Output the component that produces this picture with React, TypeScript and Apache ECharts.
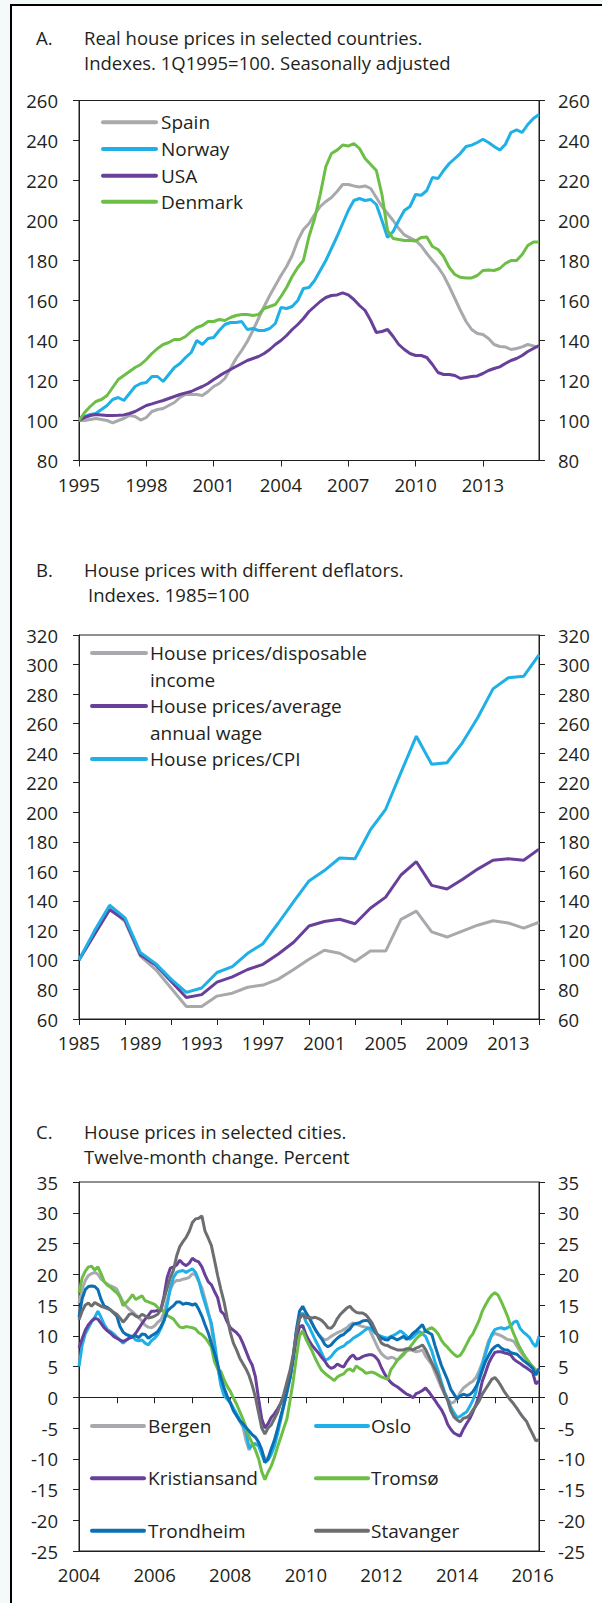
import React, { useEffect, useRef } from "react";
import * as echarts from "echarts";

// ---------- Categories ----------
const quartersA: string[] = [];
for (let y = 1995; y <= 2015; y++) for (let q = 1; q <= 4; q++) quartersA.push(`${y}Q${q}`);
quartersA.length = 83; // 1995Q1 .. 2015Q3

const yearsB: string[] = [];
for (let y = 1985; y <= 2015; y++) yearsB.push(String(y));

const monthsC: string[] = [];
for (let y = 2004; y <= 2016; y++) for (let m = 1; m <= 12; m++) monthsC.push(`${y}-${m < 10 ? "0" + m : m}`);
monthsC.length = 147; // 2004-01 .. 2016-03

// ---------- Panel A: real house prices, 1Q1995 = 100 ----------
const namesA = ["Spain", "Norway", "USA", "Denmark"];
const spain = [100,100,100.5,101,100.5,100,98.8,100,101,102.5,102,100.2,101.5,104.5,105.5,106,107.5,109,111.5,113,113,113,112.5,114.5,117,118.5,121,126,131,135,139.5,145,151,157,162.5,167.5,172.5,177,182.5,190,195.5,198.5,203,207,209.5,211.5,214.5,218,218,217.3,216.8,217.3,216,211.5,207,203.5,200,196,192.8,191.3,190,187.3,183.5,180,176.7,172.5,167,161,155,149.5,145.5,143.5,143,141,138,137,136.8,135.5,136,136.8,138,137.3,136.5];
const norway = [100,102,103,103.5,105.5,107.5,110.5,111.5,110,113.5,117,118.5,119,122,122,119.5,123,126.5,128.5,131.5,134,140,138,141,141.5,145,148,149,149,149.5,145.5,146,145,145,146,148.5,156.5,156,157,160,166,166.5,170,175,180,186,192,198.5,205,210,211,210,210.5,208,200,191.5,194.5,200,205,207,213,212.6,215,221.5,221,225,228.5,231,233.6,237,237.7,239,240.6,239,237,235.2,238,244,245.3,244,248,251,253];
const usa = [100,101.5,102.5,103,102.8,102.5,102.5,102.6,102.8,103.5,104.5,106,107.5,108.3,109.2,110,111,112,113,113.8,114.5,115.8,117,118.5,120.5,122.3,124,125.5,127,128.5,130,131,132,133.5,135.5,138,140,142.5,145.5,148,151,154.5,157,159.5,161.5,162.5,162.8,163.8,162.8,160.5,157.5,155,150,144,144.5,145.5,142,138,135.5,133.5,132.5,132.5,131.5,128,124,123,123,122.5,121,121.5,122,122.3,123.5,125,126,126.8,128.5,130,131,132.5,134.5,136,137.5];
const denmark = [100,104,107,109.5,110.5,112.5,116.5,120.5,122.5,124.5,126.5,128,130.5,133.5,136,138,139,140.5,140.5,142,144.5,146.5,147.5,149.5,149.5,150.5,150,151.5,152.5,153,153,152.5,153,156,157,158,162,166.5,172,176.5,180,192,201,213,227,233.5,235.2,237.7,237.2,238.5,236,231,228,225,213,195,191,190.5,190,190,189.7,191.5,191.7,187,185.5,182,176.5,173,171.6,171.3,171.3,172.5,175,175.3,175,176,178.5,180,180,183,187.5,189.2,189.2];

// ---------- Panel B: deflated house prices, 1985 = 100 ----------
const namesB = ["House prices/disposable\nincome", "House prices/average\nannual wage", "House prices/CPI"];
const perIncome = [100,117.5,135,126,102.5,93.5,81,68.5,68.5,75.5,77.5,81.5,83,87,93.5,100.5,106.5,104.5,99,106,106,127.5,133,119,115.5,119.5,123.5,126.5,125,121.5,125.5];
const perWage = [100,117,134,127,103.5,96.5,85.5,74.5,76.5,85,88.5,93.5,97,104,112,123,126,127.5,124.5,135,142.5,157.5,166.5,150.5,148,154.5,161.5,167.5,168.5,167.5,175];
const perCpi = [100,119.5,137,128.5,105,97.5,87,78,81,91.5,95.5,104.5,111,125,139.5,153.5,160.5,169,168.5,188,202,227,251.5,232.5,233.5,247,264,283.5,291,292,306.5];

// ---------- Panel C: twelve-month change, percent ----------
const namesC = ["Bergen", "Oslo", "Kristiansand", "Tromsø", "Trondheim", "Stavanger"];
const bergen = [15.3,17.5,19,19.8,20.1,20.3,20,19.2,18.8,18.4,18.1,17.9,17.6,16.5,15.5,14.8,14.3,13.9,13.4,12.9,12.4,11.7,11.4,11.3,11.6,12.2,12.6,13.8,15.8,17.5,18.6,19,19,19.2,19.3,19.5,20.1,19.9,18.8,17.8,16,14,11.5,7.8,4.8,2.6,1.2,0.2,-0.8,-1.8,-2.8,-3.9,-4.8,-7,-8.6,-7.5,-7.5,-7.9,-8.8,-9.9,-9.9,-8.8,-7.6,-5.5,-3.8,-1.3,0.6,3,6.6,9.8,12.8,13.6,13.2,12.9,12,11,10.3,9.7,9.3,9.5,9.9,10.2,10.5,10.7,11,11.3,11.8,12.1,11.9,11.7,11.5,11.4,11.2,10.1,9,7.9,7.1,6.6,6.3,6.5,6.4,6,6.4,6.9,7.5,7.7,7.6,7.4,7.5,7.7,6.7,6,5.3,4,2.8,1.6,0.6,-0.2,-1,-0.8,-0.2,0.8,1.5,1.9,2.3,2.6,3.2,4.3,5.6,7.5,9.2,10,10.4,10.2,10,9.7,9.4,9.3,9.1,8.3,7.5,6.8,6.2,5.5,5,4.4,4.1];
const oslo = [5,8.5,10.3,11.3,12.3,13,14,13,11.8,11,10.7,10.3,9.8,9.3,8.8,9.3,9.7,9.9,9.3,9.2,9.3,8.8,8.5,9.2,9.6,10.2,11.2,12.5,15,17.8,19.5,20.3,20.5,20.6,20.3,20.6,20.9,20.3,19,17,15.3,13.6,12.1,9,5.3,2,0.3,-0.3,-0.9,-1.8,-2.7,-3.6,-4.6,-5.5,-8.3,-7.8,-7.6,-7.9,-9.3,-10.6,-10.2,-9.3,-8,-6,-3.6,-1.3,1.2,3.3,6.5,10.5,13,13.7,12.3,11.5,10.4,9.3,8.3,7.2,6.1,6.2,6.6,7.3,7.8,8.1,8.3,8.8,9.1,9.6,9.9,10.2,10.6,11,11.3,11,10.4,10.1,9.9,9.7,9.6,9.9,10.1,10.4,10.8,10.4,9.9,9.4,9.8,10.3,10.7,10.3,9.9,8.7,7.5,5.7,4.3,2.5,0.9,-0.3,-1.6,-2.5,-3.3,-3.1,-2.7,-2.4,-1.5,-0.5,0.8,3.5,5.3,7,8.7,10.2,11,11.2,11.3,11.1,11.3,11.6,12.2,12.4,11.2,10.6,10.2,9.7,8.8,8.2,9.9];
const kristiansand = [8,9.5,10.9,11.8,12.4,12.8,12.7,12,11.3,10.8,10.4,9.9,9.6,9.3,9.1,9.3,9.6,9.8,10.4,11.2,12,12.7,13.3,14,14,14.1,14.3,16.5,19.5,21,21.2,21.5,22.3,21.7,21.4,21.8,22.6,22.2,22,21.2,19.9,18.8,18.3,17.2,16.2,14,13.5,12.3,11.3,10.9,10.5,9.9,8.8,7.5,6.2,5.2,3.3,-0.3,-3.5,-5,-4.3,-3.3,-2.7,-1.9,-1,0,1.5,3.3,6.5,9.5,11.5,11.7,10.2,9.2,8.4,7.8,7.2,6.5,5.9,5.1,4.7,4.9,5.4,5.1,4.9,5.8,6.5,6.9,6.2,6.3,6.6,6.8,6.9,6.9,6.6,6,4.8,3.8,3,2.4,2,1.7,1.3,0.9,0.5,0.3,-0.1,0.6,0.8,1.1,1.5,0.9,0.2,-0.5,-1.3,-2,-3,-4.4,-5.2,-5.8,-6.1,-6.3,-5.2,-4.3,-3.5,-2.4,-1.2,0.3,2.6,4,5.5,6.5,7.3,7.4,7.4,7.2,7.1,6.9,6.2,5.8,5.5,5.1,4.8,4.4,4,2.2,2.6];
const tromso = [17,19.4,20.5,21.2,21.3,20.7,21.2,20.1,18.8,18.2,17.9,17.4,17,16.3,14.9,15.4,16,16.7,15.9,16.2,16.5,15.7,15.5,15.3,15.1,14.6,14.2,13.9,13.3,13,12.7,12,11.4,11.3,11.5,11.4,11.3,11.1,10.5,10.2,9.7,9,8.2,5.8,4.6,4.2,2.9,1.8,1,-0.1,-1.1,-2.3,-3.5,-4.9,-6.4,-7.5,-8.6,-10,-12.1,-13.4,-12.2,-11.2,-9.8,-8.1,-6.6,-5,-3.5,-0.5,2.7,6.5,10,10.8,9.5,8.5,7.5,6.3,5.3,4.4,3.9,3.5,3.1,2.7,3.3,3.6,3.8,4.4,4.6,4.2,5.1,4.7,4.4,3.9,4,4.1,3.9,3.6,3.3,3.1,2.9,4.5,5.2,6,6.6,7.1,7.6,8.1,8.8,9.5,10,10.4,10.8,11.1,11.3,10.9,10.3,9.3,8.6,8.1,7.5,7,6.6,6.8,7.6,8.6,9.6,10.3,11.4,12.5,14,15,15.9,16.6,17,16.6,15.6,14.4,13.2,11.6,10.3,9.1,8,7.1,6.3,5.6,4.9,4.4,4.1];
const trondheim = [13,16,17.5,18,18.1,18,17.5,15.9,14.8,14.6,14.2,13.7,13.2,11.5,10.6,10.2,10,9.9,10,9.7,10.3,10.2,9.6,10,10.3,10.7,11.5,12.5,14,14.5,14.9,15.5,15.5,15.1,15.3,15.2,15,15.2,14.3,13.2,11.8,10.5,8.8,7.2,5.4,3.2,1.6,0.2,-0.9,-2.2,-3,-3.8,-4.3,-4.9,-5.5,-6.1,-6.5,-7.3,-8.5,-10.6,-10,-8.4,-7,-5.2,-3.2,-1.3,1,3.3,6.5,11,14,14.8,13.8,13,12,11,10.2,9.5,8.6,8.2,8.5,9.1,9.6,10,10.2,10.7,11.1,11.8,12,12.1,12.4,12.5,12.4,11.5,10.7,10,9.6,9.4,9.3,9.8,9.6,9.3,9.6,9.9,9.4,9.8,10.4,10.8,11.3,11.8,10.7,10.5,10.2,8.4,6.8,5.2,4,2.8,1.3,0.5,-0.3,0.2,0.5,0.3,0.4,0.9,1.7,2.8,4.4,5.8,6.8,7.7,8.2,8.5,8,7.7,7.7,7.3,7.1,7,6.5,6,5.6,5.2,4.7,3.6,4.7];
const stavanger = [12.6,14,15,15.3,14.8,15.4,15.1,14.8,14.6,14.4,14.2,13.8,13.5,12.9,12.2,12.8,13.5,13.6,13.2,13,13.5,13.2,12.9,13,13.2,13.5,14.2,16,17.8,19.5,20.7,23,24.5,25.3,26,27,28.4,29,29.1,29.5,27,25.9,24.7,22.3,19.8,17.6,15.6,13,10.6,8.8,7.7,6.4,5.5,4.6,3.5,1.9,0,-2.5,-5,-6,-5,-4.5,-3.5,-2.5,-1,0.5,2.5,4.4,7,10.5,12.8,13.5,12.9,13,12.9,13,12.8,12.5,12,11.3,11.2,11.8,12.8,13.5,14,14.5,14.8,14.2,13.8,13.7,13.7,13.4,12.8,12.1,11,9.8,8.8,8.5,8.4,8.1,7.9,7.7,7.7,7.7,7.9,7.9,7.7,8,8.2,8.5,7.8,6.7,5.6,4.6,3.5,2,0.6,-0.5,-2.2,-3.2,-3.7,-4,-3.4,-3.3,-2.9,-2.1,-1.4,-0.6,0.5,1.3,2.1,2.9,3.2,2.6,1.8,0.9,0.2,-0.5,-1.1,-1.8,-2.6,-3.3,-3.9,-5,-6,-7.1,-6.9];

// ---------- Styling ----------
const FONT = "'Open Sans', 'Noto Sans', sans-serif";
const INK = "#231f20";
const GRAY = "#a7a9ac";
const LBLUE = "#1eb0e6";
const PURPLE = "#683f99";
const GREEN = "#6dbe45";
const DBLUE = "#0a6fb5";
const DGRAY = "#6d6e71";

const TICK_FS = 18.5;
const TITLE_FS = 18.5;
const LEG_FS = 19;

function yPair(gridIndex: number, min: number, max: number, interval: number) {
  const common = {
    type: "value",
    gridIndex,
    min,
    max,
    interval,
    axisLine: { show: true, onZero: false, lineStyle: { color: INK, width: 1 } },
    axisTick: { show: true, length: 6, lineStyle: { color: INK, width: 1 } },
    splitLine: { show: false },
  };
  return [
    { ...common, position: "left", axisLabel: { margin: 21, fontSize: TICK_FS, color: INK, fontFamily: FONT } },
    { ...common, position: "right", axisLabel: { margin: 19, fontSize: TICK_FS, color: INK, fontFamily: FONT } },
  ];
}

const yearLabel = (v: string) => v.slice(0, 4);

function lineSeries(name: string, data: number[], color: string, xAxisIndex: number, yAxisIndex: number) {
  return {
    type: "line",
    name,
    data,
    xAxisIndex,
    yAxisIndex,
    showSymbol: false,
    symbol: "none",
    lineStyle: { color, width: 3 },
    itemStyle: { color },
    z: 3,
  };
}

function legendItem(x: number, y: number, color: string, label: string, textX: number, lineLen = 53) {
  const lines = label.split("\n");
  const els: any[] = [
    {
      type: "line",
      shape: { x1: x, y1: y, x2: x + lineLen, y2: y },
      style: { stroke: color, lineWidth: 4, lineCap: "round" },
      z: 50,
    },
  ];
  lines.forEach((t, i) => {
    els.push({
      type: "text",
      x: textX,
      y: y + i * 26.7,
      style: { text: t, fontSize: LEG_FS, fontFamily: FONT, fill: INK, verticalAlign: "middle", align: "left" },
      z: 50,
    });
  });
  return els;
}

function titleBlock(letter: string, l1: string, l2: string, y1: number, y2: number, x2 = 84) {
  const st = { fontSize: TITLE_FS, fontFamily: FONT, fill: INK, verticalAlign: "middle", align: "left" };
  return [
    { type: "text", x: 36, y: y1, style: { ...st, text: letter }, z: 50 },
    { type: "text", x: 84, y: y1, style: { ...st, text: l1 }, z: 50 },
    { type: "text", x: x2, y: y2, style: { ...st, text: l2 }, z: 50 },
  ];
}

export default function App() {
  const ref = useRef<HTMLDivElement>(null);

  useEffect(() => {
    if (!ref.current) return;
    const chart = echarts.init(ref.current, undefined, { renderer: "svg" });

    const colorsA = [GRAY, LBLUE, PURPLE, GREEN];
    const dataA = [spain, norway, usa, denmark];
    const colorsB = [GRAY, PURPLE, LBLUE];
    const dataB = [perIncome, perWage, perCpi];
    const colorsC = [GRAY, LBLUE, PURPLE, GREEN, DBLUE, DGRAY];
    const dataC = [bergen, oslo, kristiansand, tromso, trondheim, stavanger];

    const gridStyle = { show: true, borderColor: INK, borderWidth: 1, backgroundColor: "transparent" };

    const xLabel = { fontSize: TICK_FS, color: INK, fontFamily: FONT, margin: 14 };
    const xLine = { show: true, onZero: false, lineStyle: { color: INK, width: 1 } };
    const xTick = { length: 6, lineStyle: { color: INK, width: 1 } };

    const graphic: any[] = [
      {
        type: "rect",
        shape: { x: 11, y: 5, width: 620, height: 1620 },
        style: { fill: "#ffffff", stroke: "#000000", lineWidth: 2 },
        z: -10,
        silent: true,
      },
      ...titleBlock("A.", "Real house prices in selected countries.", "Indexes. 1Q1995=100. Seasonally adjusted", 37, 62),
      ...titleBlock("B.", "House prices with different deflators.", "Indexes. 1985=100", 569.5, 594, 88),
      ...titleBlock("C.", "House prices in selected cities.", "Twelve-month change. Percent", 1131, 1156),
    ];
    const legA = [122.3, 149, 175.7, 201.7];
    namesA.forEach((n, i) => graphic.push(...legendItem(103, legA[i], colorsA[i], n, 161)));
    const legB = [653, 706, 759];
    namesB.forEach((n, i) => graphic.push(...legendItem(92, legB[i], colorsB[i], n, 150, 54)));
    const legC = [
      [92, 1426, 148], [316, 1426, 371],
      [92, 1478.3, 148], [316, 1478.3, 371],
      [92, 1530.7, 148], [316, 1530.7, 371],
    ];
    namesC.forEach((n, i) => graphic.push(...legendItem(legC[i][0], legC[i][1], colorsC[i], n, legC[i][2], 52)));

    const option: any = {
      animation: false,
      backgroundColor: "#f4f9fa",
      grid: [
        { left: 79, width: 460, top: 100.5, height: 360, ...gridStyle },
        { left: 79, width: 460, top: 635, height: 384, ...gridStyle },
        { left: 79, width: 460, top: 1182, height: 369, ...gridStyle },
      ],
      xAxis: [
        {
          type: "category", gridIndex: 0, data: quartersA, boundaryGap: false, position: "bottom",
          axisLine: xLine, axisTick: { ...xTick, interval: 11 },
          axisLabel: { ...xLabel, interval: 11, formatter: yearLabel },
        },
        {
          type: "category", gridIndex: 1, data: yearsB, boundaryGap: false, position: "bottom",
          axisLine: xLine, axisTick: { ...xTick, interval: 2 },
          axisLabel: { ...xLabel, interval: 3 },
        },
        {
          type: "category", gridIndex: 2, data: monthsC, boundaryGap: false, position: "bottom",
          axisLine: { show: true, onZero: true, lineStyle: { color: INK, width: 1 } },
          axisTick: { ...xTick, interval: 11 },
          axisLabel: { show: false },
        },
        {
          type: "category", gridIndex: 2, data: monthsC, boundaryGap: false, position: "bottom",
          axisLine: xLine, axisTick: { show: false },
          axisLabel: { ...xLabel, interval: 23, formatter: yearLabel },
        },
      ],
      yAxis: [
        ...yPair(0, 80, 260, 20),
        ...yPair(1, 60, 320, 20),
        ...yPair(2, -25, 35, 5),
      ],
      series: [
        ...namesA.map((n, i) => lineSeries(n, dataA[i], colorsA[i], 0, 0)),
        ...namesB.map((n, i) => lineSeries(n, dataB[i], colorsB[i], 1, 2)),
        ...namesC.map((n, i) => lineSeries(n, dataC[i], colorsC[i], 2, 4)),
      ],
      graphic,
    };

    chart.setOption(option);
    return () => chart.dispose();
  }, []);

  return (
    <div
      ref={ref}
      style={{ position: "absolute", left: 0, top: 0, width: 602, height: 1603 }}
    />
  );
}
